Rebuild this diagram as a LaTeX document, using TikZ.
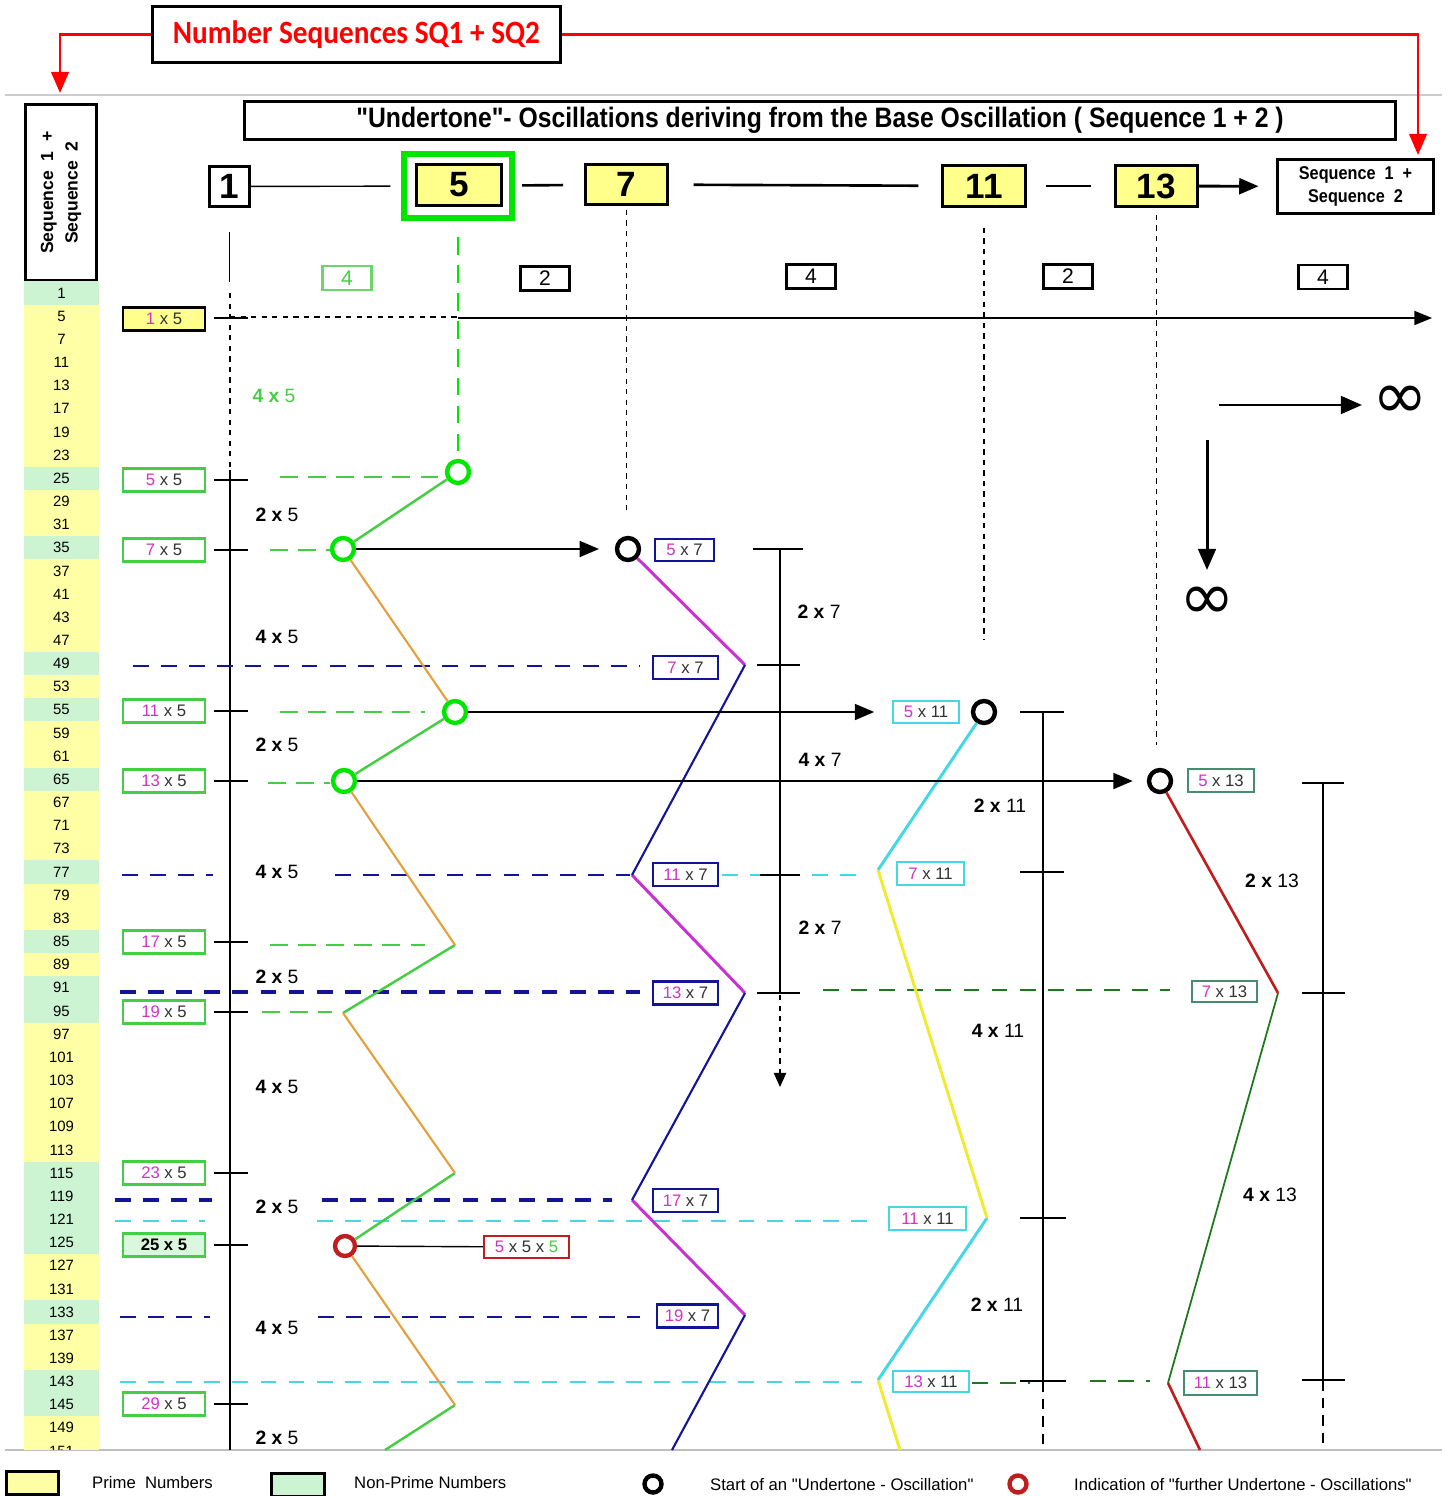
\documentclass[tikz,border=0pt]{standalone}
\usepackage{fontspec}
\setmainfont{Liberation Sans}
\newfontfamily\calfont{Carlito}[FakeStretch=0.9]
\newfontfamily\symfont{DejaVu Sans}
\newfontfamily\plainfont{Liberation Sans}
\newfontfamily\narrowfont{Liberation Sans}[FakeStretch=0.88]
\usepackage{tikz}
\usetikzlibrary{arrows.meta,positioning,shapes.geometric}

\definecolor{primeyel}{RGB}{255,255,165}
\definecolor{nonprgrn}{RGB}{204,244,210}
\definecolor{boxyel}{RGB}{255,255,140}
\definecolor{frgreen}{RGB}{0,230,0}
\definecolor{oscgreen}{RGB}{70,205,70}
\definecolor{oscorange}{RGB}{228,160,60}
\definecolor{oscmag}{RGB}{200,50,210}
\definecolor{oscnavy}{RGB}{20,20,150}
\definecolor{osccyan}{RGB}{70,215,230}
\definecolor{oscyel}{RGB}{240,235,50}
\definecolor{oscred}{RGB}{190,30,30}
\definecolor{oscdkgreen}{RGB}{30,120,30}
\definecolor{tealbox}{RGB}{70,140,110}
\definecolor{multmag}{RGB}{210,50,200}
\definecolor{txtgray}{RGB}{50,50,50}
\newcommand{\fac}[2]{{\color{multmag}#1} {\color{txtgray}x #2}}
\newcommand{\steplbl}[2]{\textbf{#1 x} #2}

\begin{document}
\begin{tikzpicture}[x=0.02cm, y=-0.02cm,
    numcell/.style={minimum width=1.5cm, minimum height=0.4632cm, inner sep=0pt, font=\fontsize{8.5}{9}\selectfont},
    numbox/.style={draw, line width=1.6pt, fill=boxyel, minimum width=1.7cm, minimum height=0.82cm, inner sep=0pt, font=\bfseries\fontsize{20}{22}\selectfont},
    stepbox/.style={draw, line width=1.5pt, minimum width=0.98cm, minimum height=0.48cm, inner sep=0pt, font=\fontsize{12}{12}\selectfont},
    multbox/.style={draw=oscgreen, line width=1.4pt, fill=white, minimum width=1.64cm, minimum height=0.46cm, inner sep=0pt, font=\fontsize{9.5}{10}\selectfont},
    osccirc/.style={circle, draw, line width=2.5pt, minimum size=0.44cm, inner sep=0pt},
    steptxt/.style={font=\fontsize{11}{12}\selectfont},
    inftxt/.style={font=\symfont\fontsize{38}{38}\selectfont},
    legtxt/.style={anchor=west, font=\plainfont\fontsize{9.5}{11}\selectfont},
    axtick/.style={line width=0.8pt},
    arr/.style={line width=1.3pt, -{Triangle[length=11pt, width=9pt]}},
    gdash/.style={oscgreen, line width=1.6pt, dash pattern=on 10pt off 6pt},
    ndash/.style={oscnavy, line width=1.6pt, dash pattern=on 9pt off 7pt},
    cdash/.style={osccyan, line width=1.6pt, dash pattern=on 9pt off 7pt},
    kdash/.style={oscdkgreen, line width=1.6pt, dash pattern=on 9pt off 7pt}
]
\useasboundingbox (0,0) rectangle (1450,1496);

% frame lines
\draw[black!20, line width=1pt] (5,95) -- (1442,95);
\draw[black!25, line width=1pt] (5,1450) -- (1442,1450);

% title and sequence boxes
\node[draw, line width=1.6pt, minimum width=8.16cm, minimum height=1.12cm, text=red, font=\calfont\bfseries\fontsize{18.5}{20}\selectfont] (title) at (356.5,34.5) {Number Sequences SQ1 + SQ2};
\node[draw, line width=1.6pt, minimum width=1.42cm, minimum height=3.52cm] (seqbox) at (61,192.5) {};
\node[rotate=90, align=center, font=\bfseries\fontsize{10}{14}\selectfont] (seqtext) at (seqbox) {Sequence\ \ 1\ \ +\\Sequence\ \ 2};
\node[draw, line width=1.6pt, minimum width=3.12cm, minimum height=1.08cm, align=center, font=\narrowfont\bfseries\fontsize{10.5}{13}\selectfont] (seqright) at (1355.5,186.5) {Sequence\ \ 1\ \ +\\Sequence\ \ 2};
\coordinate (tipL) at (60,93);
\coordinate (tipR) at (1418,155);
\draw[red, line width=1.3pt, -{Triangle[length=12pt,width=10pt]}] (title.west) -| (tipL);
\draw[red, line width=1.3pt, -{Triangle[length=12pt,width=10pt]}] (title.east) -| (tipR);

% header
\node[draw, line width=1.6pt, minimum width=23.02cm, minimum height=0.76cm, font=\narrowfont\bfseries\fontsize{16}{18}\selectfont] (header) at (820,120.5) {"Undertone"- Oscillations deriving from the Base Oscillation ( Sequence 1 + 2 )};

% number column
\begin{scope}
\clip (0,0) rectangle (1450,1449);
\foreach \n/\c [count=\i from 0] in {1/nonprgrn,5/primeyel,7/primeyel,11/primeyel,13/primeyel,17/primeyel,19/primeyel,23/primeyel,25/nonprgrn,29/primeyel,31/primeyel,35/nonprgrn,37/primeyel,41/primeyel,43/primeyel,47/primeyel,49/nonprgrn,53/primeyel,55/nonprgrn,59/primeyel,61/primeyel,65/nonprgrn,67/primeyel,71/primeyel,73/primeyel,77/nonprgrn,79/primeyel,83/primeyel,85/nonprgrn,89/primeyel,91/nonprgrn,95/nonprgrn,97/primeyel,101/primeyel,103/primeyel,107/primeyel,109/primeyel,113/primeyel,115/nonprgrn,119/nonprgrn,121/nonprgrn,125/nonprgrn,127/primeyel,131/primeyel,133/nonprgrn,137/primeyel,139/primeyel,143/nonprgrn,145/nonprgrn,149/primeyel,151/primeyel}
  \node[numcell, fill=\c] (c\n) at (61.5,{293+23.16*\i}) {\n};
\end{scope}

% base oscillation numbers
\node[numbox, fill=white, minimum width=0.8cm, minimum height=0.8cm] (n1) at (229.5,186.5) {1};
\node[draw=frgreen, line width=3.4pt, minimum width=2.16cm, minimum height=1.28cm] (n5frame) at (458,186) {};
\node[numbox] (n5) at (459,185) {5};
\node[numbox, minimum width=1.64cm, minimum height=0.8cm] (n7) at (626.5,184.5) {7};
\node[numbox, minimum width=1.66cm] (n11) at (984,186) {11};
\node[numbox, minimum width=1.64cm] (n13) at (1156.5,186) {13};
\draw[line width=0.8pt, shorten >=6pt] (n1) -- (n5frame);
\draw[line width=1.5pt, shorten <=4pt, shorten >=12pt] (n5frame) -- (n7);
\draw[line width=1.5pt, shorten <=14pt, shorten >=13pt] (n7) -- (n11);
\draw[line width=1.5pt, shorten <=11pt, shorten >=13pt] (n11) -- (n13);
\draw[arr, line width=1.6pt, shorten >=10pt] (n13) -- (seqright);

% gaps
\node[stepbox, draw=oscgreen!80, text=oscgreen] (d1) at (347,278) {4};
\node[stepbox] (d2) at (545,278.5) {2};
\node[stepbox] (d3) at (811,276.5) {4};
\node[stepbox] (d4) at (1068,276.5) {2};
\node[stepbox] (d5) at (1323,277) {4};

% oscillation circles of 5
\node[osccirc, draw=frgreen] (g1) at (458,472) {};
\node[osccirc, draw=frgreen] (g2) at (343,549) {};
\node[osccirc, draw=frgreen] (g3) at (455,712) {};
\node[osccirc, draw=frgreen] (g4) at (344,781) {};
\node[osccirc, draw=oscred, minimum size=0.4cm] (r1) at (345,1246) {};

% drop lines
\draw[axtick] (n1.south) ++(0,24) -- ++(0,50);
\draw[dashed, line width=0.6pt] (230,293) -- (230,470);
\draw[axtick] (230,470) -- (230,1450);
\draw[gdash, frgreen] (n5frame.south) ++(0,16) -- (g1);
\draw[dashed, line width=0.6pt] (n7.south) ++(0,4) -- ++(0,300);
\draw[dashed, line width=0.6pt] (n11.south) ++(0,20) -- ++(0,412);
\draw[dashed, line width=0.6pt] (n13.south) ++(0,7) -- ++(0,530);

% row of 5
\node[multbox, draw=black, fill=boxyel] (m1) at (164,319) {\fac{1}{5}};
\draw[axtick] (214,318) -- (248,318);
\draw[dashed, line width=0.6pt] (230,317) -- (458,317);
\draw[line width=0.8pt, -{Triangle[length=10pt,width=8pt]}] (458,318) -- (1432,318);

% multiples of 5
\foreach \y/\k in {480/5,550/7,711/11,781/13,942/17,1012/19,1173/23,1404/29}{
  \node[multbox] (m\k) at (164,\y) {\fac{\k}{5}};
  \draw[axtick] (214,\y) -- (248,\y);
}
\node[multbox, fill=nonprgrn!70, font=\bfseries\fontsize{9.5}{10}\selectfont] (m25) at (164,1245) {25 x 5};
\draw[axtick] (214,1245) -- (248,1245);

\node[steptxt, text=oscgreen] (l45) at (274,396) {\textbf{4 x} 5};
\foreach \y/\k in {515/2,637/4,745/2,872/4,977/2,1087/4,1207/2,1328/4,1438/2}
  \node[steptxt] (l5x\y) at (277,\y) {\steplbl{\k}{5}};

% guide lines
\draw[gdash] (280,477) -- (445,477);
\draw[gdash] (270,550) -- (330,550);
\draw[gdash] (280,712) -- (425,712);
\draw[gdash] (268,783) -- (330,783);
\draw[gdash] (270,945) -- (425,945);
\draw[gdash] (262,1012) -- (332,1012);
\draw[ndash] (133,666) -- (640,666);
\draw[ndash] (122,875) -- (213,875) (335,875) -- (630,875);
\draw[ndash, line width=2.4pt] (120,992) -- (640,992);
\draw[ndash, line width=2.4pt] (115,1200) -- (212,1200) (322,1200) -- (612,1200);
\draw[ndash] (120,1317) -- (210,1317) (318,1317) -- (640,1317);
\draw[cdash] (722,875) -- (760,875) (812,875) -- (868,875);
\draw[cdash] (115,1221) -- (205,1221) (317,1221) -- (877,1221);
\draw[cdash] (120,1382) -- (862,1382);
\draw[kdash] (823,990) -- (1170,990);
\draw[kdash] (972,1383) -- (1030,1383) (1090,1381) -- (1150,1381);

% oscillation of 5
\coordinate (v5a) at (455,945);
\coordinate (v5b) at (343,1013);
\coordinate (v5c) at (455,1173);
\coordinate (v5d) at (455,1405);
\coordinate (v5e) at (385,1450);
\draw[oscgreen, line width=1.4pt] (g1) -- (g2) (g3) -- (g4) (v5a) -- (v5b) (v5c) -- (r1) (v5d) -- (v5e);
\draw[oscorange, line width=1.2pt] (g2) -- (g3) (g4) -- (v5a) (v5b) -- (v5c) (r1) -- (v5d);
\node[multbox, draw=oscred, minimum width=1.7cm, minimum height=0.44cm] (b555) at (526.5,1247) {{\color{multmag}5} {\color{txtgray}x 5 x} {\color{oscgreen}5}};
\draw[line width=0.8pt] (r1) -- (b555);

% oscillation of 7
\node[osccirc] (k7) at (628,549) {};
\draw[arr, shorten >=9pt] (g2) -- (k7);
\node[multbox, draw=oscnavy, minimum width=1.18cm, minimum height=0.44cm] (b57) at (684.5,550) {\fac{5}{7}};
\node[multbox, draw=oscnavy, minimum width=1.3cm] (b77) at (685.5,667.5) {\fac{7}{7}};
\node[multbox, draw=oscnavy, minimum width=1.3cm] (b117) at (685.5,874.5) {\fac{11}{7}};
\node[multbox, draw=oscnavy, minimum width=1.3cm] (b137) at (685.5,993) {\fac{13}{7}};
\node[multbox, draw=oscnavy, minimum width=1.3cm] (b177) at (685.5,1200.5) {\fac{17}{7}};
\node[multbox, draw=oscnavy, minimum width=1.22cm] (b197) at (687.5,1316) {\fac{19}{7}};
\coordinate (p7a) at (745,665);
\coordinate (p7b) at (632,875);
\coordinate (p7c) at (745,993);
\coordinate (p7d) at (632,1200);
\coordinate (p7e) at (745,1315);
\coordinate (p7f) at (672,1450);
\draw[oscmag, line width=1.7pt] (k7) -- (p7a) (p7b) -- (p7c) (p7d) -- (p7e);
\draw[oscnavy, line width=1.2pt] (p7a) -- (p7b) (p7c) -- (p7d) (p7e) -- (p7f);
\draw[axtick] (780,549) -- (780,993);
\draw[axtick] (753,549) -- (803,549) (757,665) -- (800,665) (760,875) -- (800,875) (757,993) -- (800,993);
\draw[dashed, line width=0.8pt, -{Triangle[length=8pt,width=7pt]}] (780,995) -- (780,1087);
\node[steptxt] (l7a) at (819,612) {\steplbl{2}{7}};
\node[steptxt] (l7b) at (820,760) {\steplbl{4}{7}};
\node[steptxt] (l7c) at (820,928) {\steplbl{2}{7}};

% oscillation of 11
\node[osccirc] (k11) at (984,712) {};
\node[multbox, draw=osccyan, minimum width=1.32cm, minimum height=0.44cm] (b511) at (926,712) {\fac{5}{11}};
\draw[arr, shorten >=10pt] (g3) -- (b511);
\node[multbox, draw=osccyan, minimum width=1.34cm] (b711) at (930.5,873.5) {\fac{7}{11}};
\node[multbox, draw=osccyan, minimum width=1.54cm] (b1111) at (927.5,1218.5) {\fac{11}{11}};
\node[multbox, draw=osccyan, minimum width=1.52cm, minimum height=0.42cm] (b1311) at (931,1381.5) {\fac{13}{11}};
\coordinate (q11a) at (878,870);
\coordinate (q11b) at (987,1218);
\coordinate (q11c) at (878,1380);
\coordinate (q11d) at (900,1450);
\draw[osccyan, line width=1.7pt] (k11) -- (q11a) (q11b) -- (q11c);
\draw[oscyel, line width=1.7pt] (q11a) -- (q11b) (q11c) -- (q11d);
\draw[axtick] (1043,712) -- (1043,1381);
\draw[axtick] (1020,712) -- (1064,712) (1020,872) -- (1064,872) (1020,1218) -- (1066,1218) (1020,1381) -- (1066,1381);
\draw[line width=1.5pt, dash pattern=on 6pt off 4pt] (1043,1381) -- (1043,1450);
\node[steptxt] (l11a) at (1000,806) {\steplbl{2}{11}};
\node[steptxt] (l11b) at (998,1031) {\steplbl{4}{11}};
\node[steptxt] (l11c) at (997,1305) {\steplbl{2}{11}};

% oscillation of 13
\node[osccirc] (k13) at (1160,781) {};
\draw[arr, shorten >=8pt] (g4) -- (k13);
\node[multbox, draw=tealbox, minimum width=1.32cm] (b513) at (1221,780.5) {\fac{5}{13}};
\node[multbox, draw=tealbox, minimum width=1.3cm, minimum height=0.42cm] (b713) at (1224.5,991.5) {\fac{7}{13}};
\node[multbox, draw=tealbox, minimum width=1.46cm, minimum height=0.48cm] (b1113) at (1220.5,1383) {\fac{11}{13}};
\coordinate (t13a) at (1278,993);
\coordinate (t13b) at (1168,1383);
\coordinate (t13c) at (1200,1450);
\draw[oscred, line width=1.5pt] (k13) -- (t13a) (t13b) -- (t13c);
\draw[oscdkgreen, line width=1pt] (t13a) -- (t13b);
\draw[axtick] (1323,783) -- (1323,1380);
\draw[axtick] (1302,783) -- (1344,783) (1302,993) -- (1345,993) (1302,1380) -- (1345,1380);
\draw[line width=1pt, dash pattern=on 6pt off 4pt] (1323,1380) -- (1323,1450);
\node[steptxt] (l13a) at (1272,881) {\steplbl{2}{13}};
\node[steptxt] (l13b) at (1270,1195) {\steplbl{4}{13}};

% infinity
\coordinate (infa) at (1219,405);
\coordinate (infb) at (1362,405);
\coordinate (infc) at (1207,440);
\coordinate (infd) at (1207,570);
\draw[line width=1.7pt, -{Triangle[length=12pt,width=10pt]}] (infa) -- (infb);
\draw[line width=1.7pt, -{Triangle[length=12pt,width=10pt]}] (infc) -- (infd);
\node[inftxt] (infr) at (1400,402) {∞};
\node[inftxt] (infdn) at (1207,603) {∞};

% legend
\node[draw, line width=1.6pt, fill=primeyel, minimum width=1.04cm, minimum height=0.46cm] (lgp) at (32.5,1483) {};
\node[legtxt] (lgpt) at (86,1483) {Prime\ \ Numbers};
\node[draw, line width=1.6pt, fill=nonprgrn, minimum width=1.06cm, minimum height=0.46cm] (lgn) at (298,1485) {};
\node[legtxt] (lgnt) at (348,1483) {Non-Prime Numbers};
\node[osccirc, minimum size=0.34cm] (lgs) at (653,1484) {};
\node[legtxt] (lgst) at (704,1485) {Start of an "Undertone - Oscillation"};
\node[osccirc, draw=oscred, minimum size=0.34cm] (lgi) at (1018,1484) {};
\node[legtxt] (lgit) at (1068,1485) {Indication of "further Undertone - Oscillations"};
\end{tikzpicture}
\end{document}
